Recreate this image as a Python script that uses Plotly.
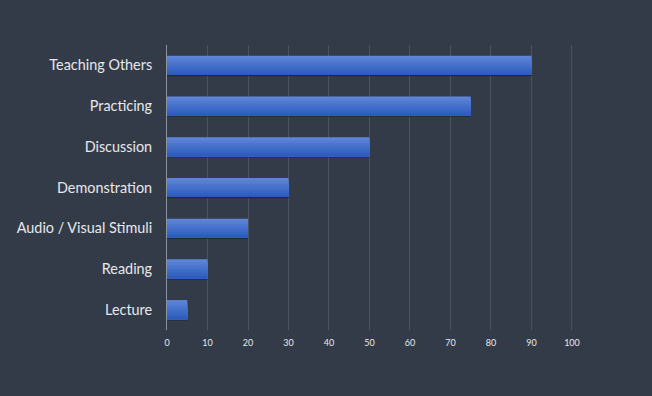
import plotly.graph_objects as go

categories = ["Teaching Others", "Practicing", "Discussion", "Demonstration",
              "Audio / Visual Stimuli", "Reading", "Lecture"]
values = [90, 75, 50, 30, 20, 10, 5]
tick_vals = [0, 10, 20, 30, 40, 50, 60, 70, 80, 90, 100]

BG = "#343b48"
BAR_W = 0.47
N = 10
top = (94, 133, 216)
bot = (44, 92, 190)

fig = go.Figure()
# subtle shadow under each bar
fig.add_trace(go.Bar(
    y=categories, x=values, orientation="h",
    width=0.05, offset=BAR_W / 2 - 0.02,
    marker=dict(color="#23282f", line=dict(width=0)),
    hoverinfo="skip", showlegend=False,
))
for i in range(N):
    t = i / (N - 1)
    c = tuple(round(top[k] + (bot[k] - top[k]) * t) for k in range(3))
    start = -BAR_W / 2 + i * BAR_W / N
    fig.add_trace(go.Bar(
        y=categories, x=values, orientation="h",
        width=BAR_W / 2 - start, offset=start,
        marker=dict(color="rgb(%d,%d,%d)" % c, line=dict(width=0)),
        hoverinfo="skip", showlegend=False,
    ))

fig.update_layout(
    width=652, height=396,
    paper_bgcolor=BG, plot_bgcolor=BG,
    margin=dict(l=167, r=78, t=45, b=66),
    barmode="overlay",
    font=dict(family="Lato, Open Sans, sans-serif", color="#e6e8eb"),
    xaxis=dict(
        range=[0, 100.5], tickvals=tick_vals,
        showgrid=True, gridcolor="#4b5361", gridwidth=1,
        zeroline=False, showline=False,
        tickfont=dict(size=9, color="#e6e8eb"),
        ticks="", ticklen=0, ticklabelstandoff=6,
        fixedrange=True, automargin=False,
    ),
    yaxis=dict(
        autorange="reversed", showgrid=False, zeroline=False,
        showline=True, linecolor="#8d939b", linewidth=1,
        tickfont=dict(size=14.4, color="#e6e8eb"),
        ticks="", ticklabelstandoff=11,
        fixedrange=True, automargin=False,
    ),
)

fig.write_html(
    "out.html",
    config={"displayModeBar": False},
    post_script="document.body.style.margin='0';document.body.style.background='%s';" % BG,
)
